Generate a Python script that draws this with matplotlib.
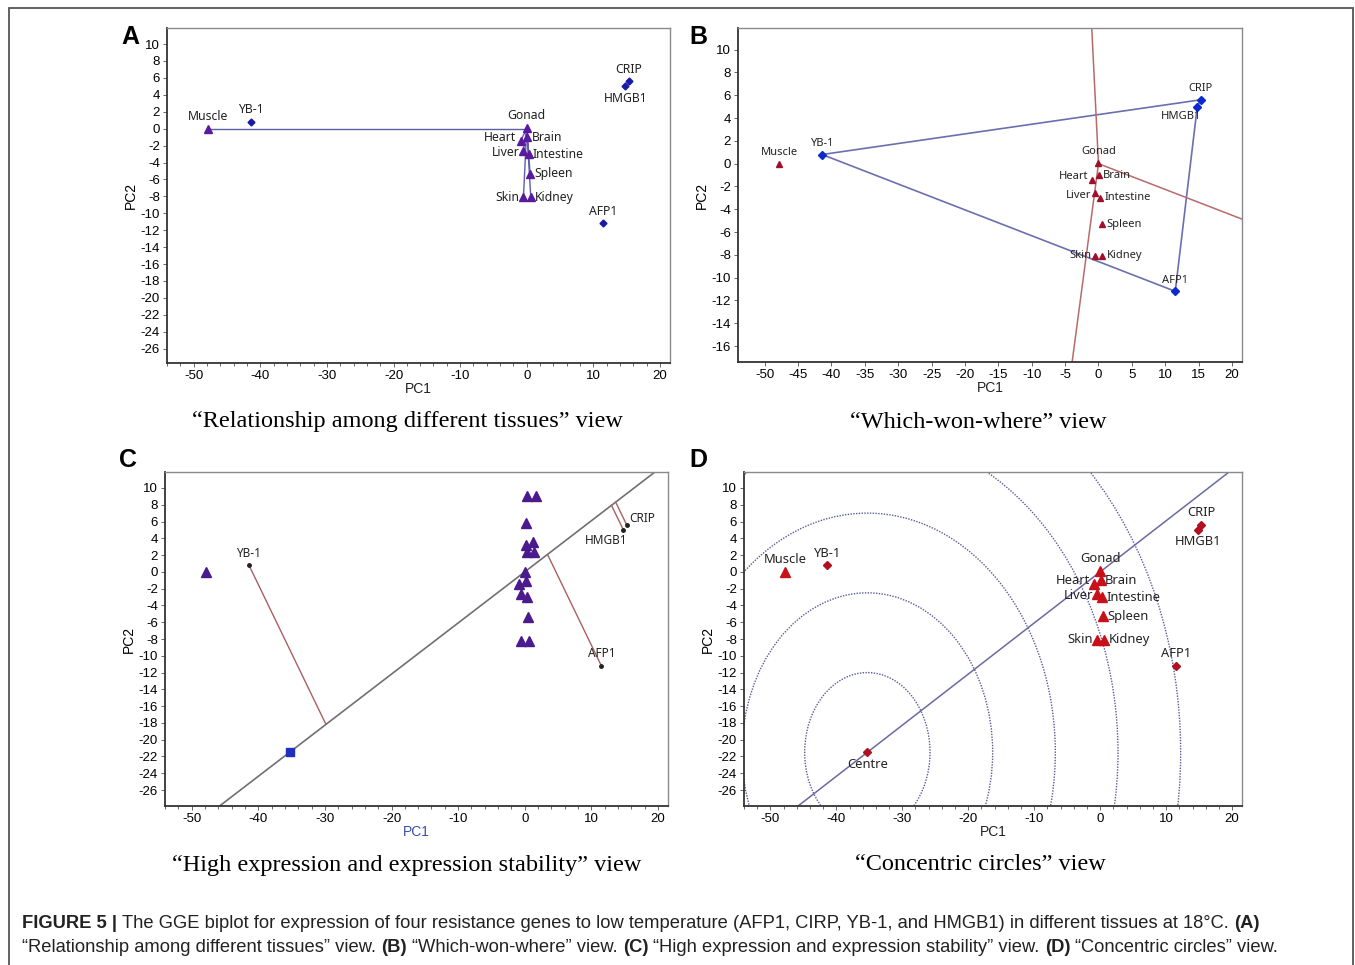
import matplotlib
matplotlib.use("Agg")
import numpy as np
import matplotlib.pyplot as plt
from matplotlib.patches import Rectangle, Circle

W, H = 1355, 965

# --- data ---
tissues = ["Muscle", "Gonad", "Brain", "Heart", "Liver", "Intestine", "Spleen", "Skin", "Kidney"]
tissue_x = [-47.8, 0.0, 0.1, -0.9, -0.5, 0.3, 0.5, -0.5, 0.6]
tissue_y = [0.0, 0.1, -1.0, -1.4, -2.6, -3.0, -5.3, -8.1, -8.1]

genes = ["YB-1", "CRIP", "HMGB1", "AFP1"]
gene_x = [-41.4, 15.3, 14.8, 11.5]
gene_y = [0.8, 5.6, 5.0, -11.2]

centre_x, centre_y = -35.3, -21.5

# panel C shows a different set of triangles
c_tri_x = [-47.8, 0.4, 1.7, 0.2, 0.2, 1.2, 0.4, 1.45, 0.0, 0.2, -0.9, -0.55, 0.3, 0.45, -0.55, 0.65]
c_tri_y = [0.0, 9.0, 9.0, 5.8, 3.2, 3.5, 2.35, 2.35, 0.0, -1.1, -1.4, -2.6, -3.0, -5.4, -8.2, -8.2]

circle_r = [9.5, 19.0, 28.5, 38.0, 47.5]

hull_order = ["YB-1", "CRIP", "HMGB1", "AFP1", "YB-1"]
ray_edges = [("YB-1", "CRIP"), ("CRIP", "AFP1"), ("AFP1", "YB-1")]

subtitles = ["\u201cRelationship among different tissues\u201d view",
             "\u201cWhich-won-where\u201d view",
             "\u201cHigh expression and expression stability\u201d view",
             "\u201cConcentric circles\u201d view"]

# label placement per panel
pos_A = {"Muscle": "above", "Gonad": "above", "Brain": "right", "Heart": "leftup", "Liver": "leftdown",
         "Intestine": "right", "Spleen": "right", "Skin": "left", "Kidney": "right",
         "YB-1": "above", "CRIP": "above", "HMGB1": "below", "AFP1": "above"}
pos_B = dict(pos_A, HMGB1="belowleft")
pos_C = {"YB-1": "above", "CRIP": "aboveright", "HMGB1": "belowleft", "AFP1": "above"}
pos_D = dict(pos_A)

LABEL_FONT = "Noto Sans"
plt.rcParams["font.family"] = ["Liberation Sans", "DejaVu Sans"]
plt.rcParams["axes.unicode_minus"] = False

fig = plt.figure(figsize=(W / 100, H / 100), dpi=100)
fig.patches.append(Rectangle((9 / W, -0.01), (1353 - 9) / W, 1.01 - 8 / H,
                             transform=fig.transFigure, fill=False,
                             edgecolor="#555555", linewidth=1.3))


def px_axes(l, t, r, b):
    return fig.add_axes([l / W, 1 - b / H, (r - l) / W, (b - t) / H])


def style(ax, xticks, yticks, ylim, minor=True, xlab_color="#222222"):
    ax.set_xlim(-54, 21.5)
    ax.set_ylim(*ylim)
    ax.set_xticks(xticks)
    ax.set_yticks(yticks)
    if minor:
        ax.set_xticks(np.arange(-54, 22, 2), minor=True)
    ax.tick_params(which="both", labelsize=9.5, length=3, width=0.7, color="#666666", pad=2)
    ax.tick_params(which="minor", length=2)
    ax.tick_params(axis="y", which="minor", left=False)
    for s in ["left", "bottom"]:
        ax.spines[s].set_color("#333333")
        ax.spines[s].set_linewidth(1.3)
    for s in ["top", "right"]:
        ax.spines[s].set_color("#8a8a8a")
        ax.spines[s].set_linewidth(1.0)
    ax.set_xlabel("PC1", fontsize=10, labelpad=0, color=xlab_color)
    ax.set_ylabel("PC2", fontsize=10, labelpad=2)


def lab(ax, x, y, txt, where, size, color="#222222"):
    offs = {"above": ((0, 4), "center", "bottom"),
            "below": ((0, -4), "center", "top"),
            "left": ((-3, 0), "right", "center"),
            "leftup": ((-3, 2), "right", "center"),
            "leftdown": ((-3, -1.5), "right", "center"),
            "right": ((3, 0), "left", "center"),
            "belowleft": ((3, -3), "right", "top"),
            "aboveright": ((2, 0), "left", "bottom")}
    (dx, dy), ha, va = offs[where]
    ax.annotate(txt, (x, y), xytext=(dx, dy), textcoords="offset points",
                ha=ha, va=va, fontsize=size, color=color, family=LABEL_FONT)


gx = dict(zip(genes, gene_x))
gy = dict(zip(genes, gene_y))

# ---------- A ----------
axA = px_axes(167, 28, 670, 363)
style(axA, range(-50, 21, 10), range(-26, 11, 2), (-27.7, 11.9))
for x, y in zip(tissue_x, tissue_y):
    axA.plot([0, x], [0, y], color="#5a5fa8", lw=1.0, zorder=2)
axA.plot(tissue_x, tissue_y, "^", color="#5b1a9e", ms=5.5, zorder=3)
axA.plot(gene_x, gene_y, "D", color="#1a1aa6", ms=3.5, zorder=3)
for n, x, y in zip(tissues + genes, tissue_x + gene_x, tissue_y + gene_y):
    lab(axA, x, y, n, pos_A[n], 8.8)

# ---------- B ----------
axB = px_axes(738, 28, 1242, 362)
style(axB, range(-50, 21, 5), range(-16, 11, 2), (-17.4, 11.9), minor=False)
axB.plot([gx[g] for g in hull_order], [gy[g] for g in hull_order],
         color="#6b6fb0", lw=1.2, zorder=2)
for p, q in ray_edges:
    dx, dy = gx[q] - gx[p], gy[q] - gy[p]
    nx, ny = -dy, dx
    if nx * gx[p] + ny * gy[p] < 0:
        nx, ny = -nx, -ny
    L = np.hypot(nx, ny)
    axB.plot([0, 200 * nx / L], [0, 200 * ny / L], color="#b86a6a", lw=1.1, zorder=2)
axB.plot(tissue_x, tissue_y, "^", color="#a0102a", ms=5, zorder=3)
axB.plot(gene_x, gene_y, "D", color="#0a2ad0", ms=4, zorder=3)
for n, x, y in zip(tissues + genes, tissue_x + gene_x, tissue_y + gene_y):
    lab(axB, x, y, n, pos_B[n], 8)

# ---------- C ----------
axC = px_axes(165, 472, 668, 806)
style(axC, range(-50, 21, 10), range(-26, 11, 2), (-27.9, 11.9), xlab_color="#3a4fa8")
axC.axline((0, 0), (centre_x, centre_y), color="#707070", lw=1.2, zorder=1)
u = np.array([centre_x, centre_y]) / np.hypot(centre_x, centre_y)
for g in genes:
    d = gx[g] * u[0] + gy[g] * u[1]
    axC.plot([gx[g], d * u[0]], [gy[g], d * u[1]], color="#a86060", lw=1.0, zorder=2)
axC.plot(c_tri_x, c_tri_y, "^", color="#4b1a8c", ms=6.5, zorder=3)
axC.plot(gene_x, gene_y, "o", color="#222222", ms=2.5, zorder=3)
axC.plot([centre_x], [centre_y], "s", color="#1f2fc0", ms=6, zorder=3)
for g in genes:
    lab(axC, gx[g], gy[g], g, pos_C[g], 8.5)

# ---------- D ----------
axD = px_axes(744, 472, 1242, 806)
style(axD, range(-50, 21, 10), range(-26, 11, 2), (-27.9, 11.9))
for r in circle_r:
    axD.add_patch(Circle((centre_x, centre_y), r, fill=False, edgecolor="#5a5a9a",
                         lw=1.0, linestyle=(0, (1, 1)), zorder=1))
axD.axline((0, 0), (centre_x, centre_y), color="#6a6aa0", lw=1.1, zorder=1)
axD.plot(tissue_x, tissue_y, "^", color="#c8101a", ms=6.5, zorder=3)
axD.plot(gene_x, gene_y, "D", color="#b01020", ms=4.5, zorder=3)
axD.plot([centre_x], [centre_y], "D", color="#b01020", ms=4.5, zorder=3)
for n, x, y in zip(tissues + genes, tissue_x + gene_x, tissue_y + gene_y):
    lab(axD, x, y, n, pos_D[n], 9.3)
lab(axD, centre_x, centre_y, "Centre", "below", 9.3)

# panel letters and subtitles
for letter, (x, y) in zip("ABCD", [(130, 37), (698, 37), (128, 460), (698, 460)]):
    fig.text(x / W, 1 - y / H, letter, fontsize=18, weight="bold", ha="center", va="center")
for txt, (x, y) in zip(subtitles, [(407, 422), (978, 422), (407, 865), (980, 865)]):
    fig.text(x / W, 1 - y / H, txt, fontsize=17.5, family="Liberation Serif",
             ha="center", va="center")

# caption with bold pieces
renderer = fig.canvas.get_renderer()


def rich_line(x, y, parts, size=13.2):
    sp = fig.text(0, 0, "x x", fontsize=size)
    sp2 = fig.text(0, 0, "xx", fontsize=size)
    gap = sp.get_window_extent(renderer).width - sp2.get_window_extent(renderer).width
    sp.remove()
    sp2.remove()
    cur = x
    for txt, bold in parts:
        t = fig.text(cur / W, 1 - y / H, txt, fontsize=size, va="center",
                     weight="bold" if bold else "normal", color="#222222")
        cur += t.get_window_extent(renderer).width + gap


rich_line(22, 923, [("FIGURE 5 |", True),
                    ("The GGE biplot for expression of four resistance genes to low temperature "
                     "(AFP1, CIRP, YB-1, and HMGB1) in different tissues at 18\u00b0C.", False),
                    ("(A)", True)])
rich_line(22, 948, [("\u201cRelationship among different tissues\u201d view.", False), ("(B)", True),
                    ("\u201cWhich-won-where\u201d view.", False), ("(C)", True),
                    ("\u201cHigh expression and expression stability\u201d view.", False), ("(D)", True),
                    ("\u201cConcentric circles\u201d view.", False)])

fig.savefig("out.png", dpi=100)
